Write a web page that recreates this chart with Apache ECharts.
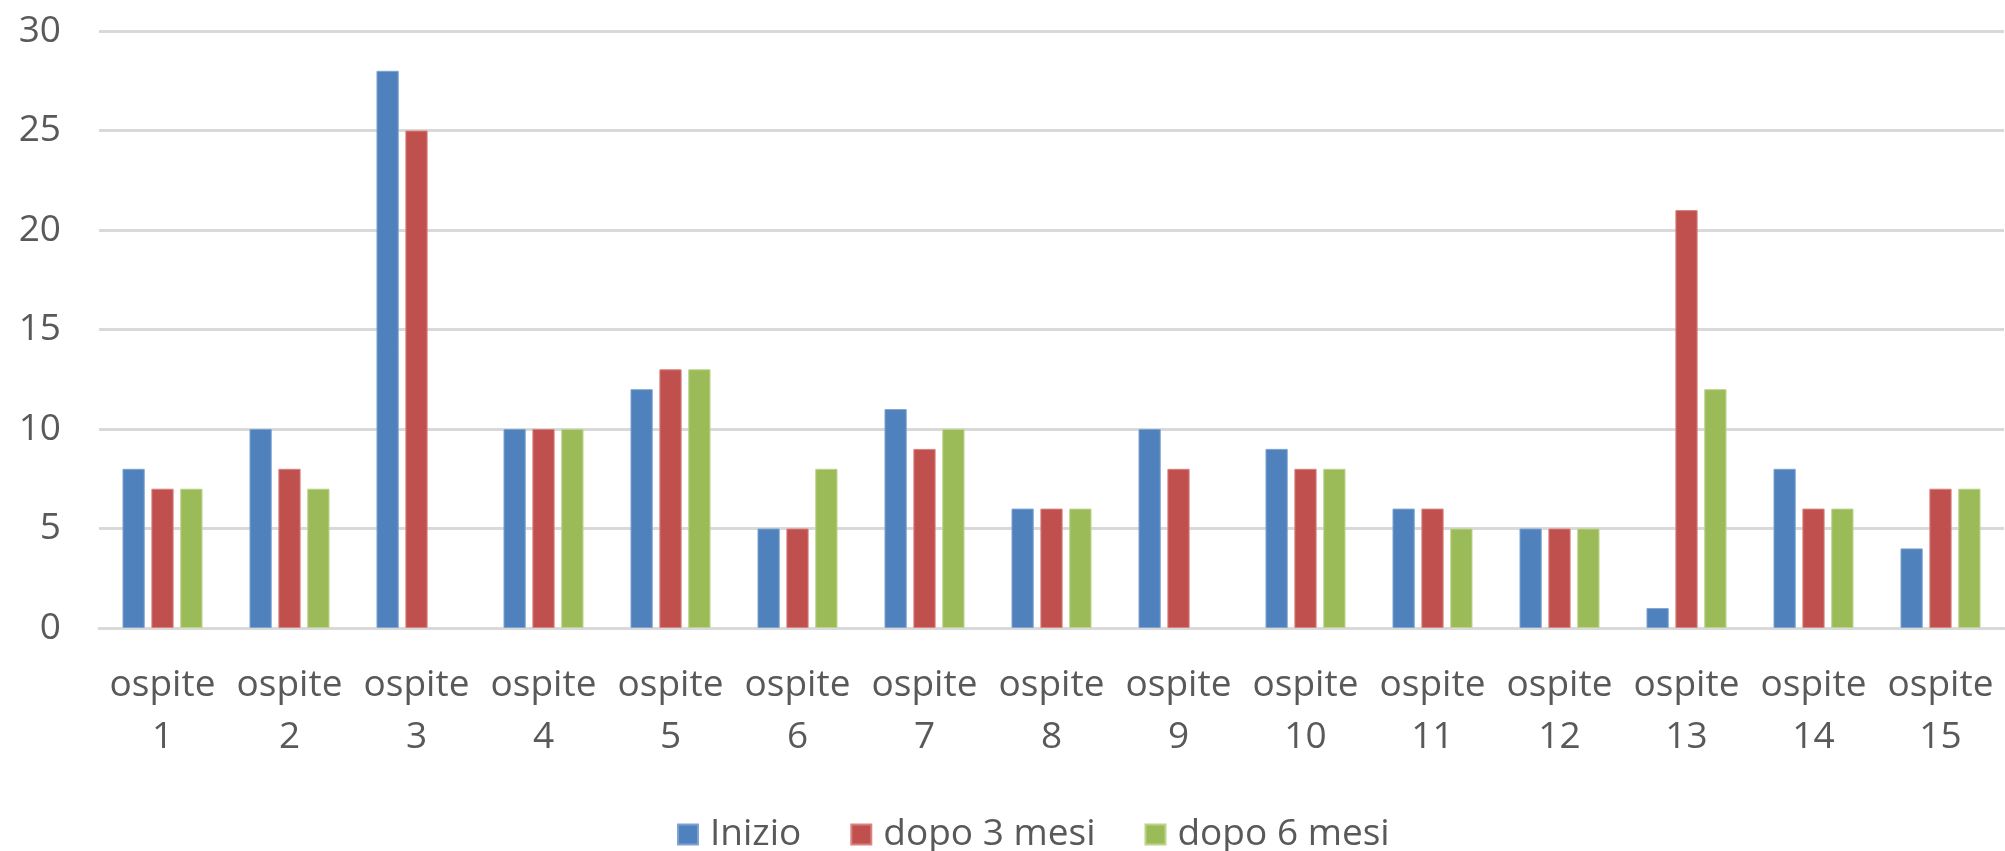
<!DOCTYPE html>
<html>
<head>
<meta charset="utf-8">
<script src="https://cdn.jsdelivr.net/npm/echarts@6/dist/echarts.min.js"></script>
<style>
  html, body { margin: 0; padding: 0; background: #ffffff; }
  #chart { width: 2005px; height: 851px; }
</style>
</head>
<body>
<div id="chart"></div>
<script>
// Guests (ospiti) and their scores at the start, after 3 months and after 6 months
const categories = ['ospite\n1', 'ospite\n2', 'ospite\n3', 'ospite\n4', 'ospite\n5',
  'ospite\n6', 'ospite\n7', 'ospite\n8', 'ospite\n9', 'ospite\n10',
  'ospite\n11', 'ospite\n12', 'ospite\n13', 'ospite\n14', 'ospite\n15'];
const inizio = [8, 10, 28, 10, 12, 5, 11, 6, 10, 9, 6, 5, 1, 8, 4];
const dopo3Mesi = [7, 8, 25, 10, 13, 5, 9, 6, 8, 8, 6, 5, 21, 6, 7];
// no 6-month value recorded for ospite 3 and ospite 9
const dopo6Mesi = [7, 7, null, 10, 13, 8, 10, 6, null, 8, 5, 5, 12, 6, 7];
const seriesNames = ['Inizio', 'dopo 3 mesi', 'dopo 6 mesi'];
const yTicks = { min: 0, max: 30, interval: 5 };

const FONT = '"Open Sans", "Noto Sans", sans-serif';
const TEXT = '#595959';
const GRID = '#d9d9d9';

const chart = echarts.init(document.getElementById('chart'), null, { renderer: 'canvas' });

function barSeries(name, data, color, border) {
  return {
    name: name,
    type: 'bar',
    data: data,
    barGap: '30%',
    barCategoryGap: '37%',
    itemStyle: { color: color, borderColor: border, borderWidth: 1 },
    emphasis: { disabled: true }
  };
}

chart.setOption({
  animation: false,
  textStyle: { fontFamily: FONT },
  grid: { left: 99, right: 1, top: 31, bottom: 223, containLabel: false },
  legend: {
    top: 811,
    left: 672,
    itemWidth: 20,
    itemHeight: 20,
    itemGap: 49,
    icon: 'rect',
    data: seriesNames,
    textStyle: { color: TEXT, fontSize: 37, fontFamily: FONT, padding: [0, 0, 0, 7] }
  },
  xAxis: {
    type: 'category',
    data: categories,
    axisLine: { show: true, lineStyle: { color: GRID, width: 3 } },
    axisTick: { show: false },
    axisLabel: {
      color: TEXT,
      fontSize: 37,
      lineHeight: 52,
      margin: 31,
      interval: 0,
      fontFamily: FONT
    }
  },
  yAxis: {
    type: 'value',
    min: yTicks.min,
    max: yTicks.max,
    interval: yTicks.interval,
    axisLine: { show: false },
    axisTick: { show: false },
    splitLine: { lineStyle: { color: GRID, width: 3 } },
    axisLabel: { color: TEXT, fontSize: 37, margin: 38, fontFamily: FONT }
  },
  series: [
    barSeries(seriesNames[0], inizio, '#4f81bd', '#7ea3d2'),
    barSeries(seriesNames[1], dopo3Mesi, '#c0504d', '#d9827f'),
    barSeries(seriesNames[2], dopo6Mesi, '#9bbb59', '#bcd48a')
  ]
});
</script>
</body>
</html>
